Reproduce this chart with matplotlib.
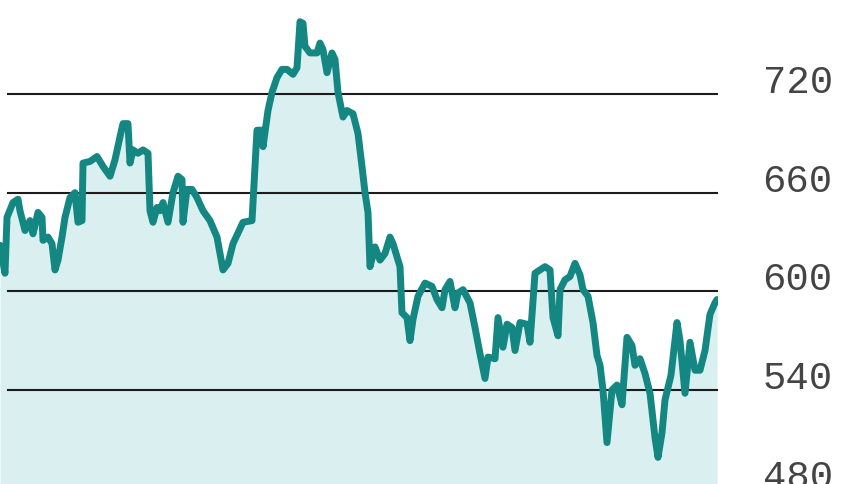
import matplotlib
matplotlib.use("Agg")
import matplotlib.pyplot as plt

# trading-day position and closing level
days = [0, 5, 7, 13, 18, 20, 25, 30, 33, 38, 42, 43, 48, 52, 55, 58, 62, 65, 70, 75,
        78, 82, 83, 90, 97, 103, 110, 115, 120, 123, 128, 130, 133, 138, 143, 148, 150,
        153, 157, 160, 163, 168, 173, 178, 182, 183, 187, 192, 197, 203, 210, 217, 220,
        223, 228, 233, 243, 252, 255, 257, 262, 263, 268, 272, 277, 282, 287, 293, 297,
        300, 303, 305, 310, 317, 320, 323, 327, 332, 335, 338, 343, 347, 353, 358, 362,
        365, 368, 370, 375, 380, 385, 390, 393, 400, 402, 407, 410, 413, 418, 425, 432,
        437, 442, 445, 450, 455, 458, 463, 470, 475, 480, 485, 488, 495, 498, 503, 507,
        512, 515, 520, 527, 530, 535, 540, 545, 550, 553, 558, 560, 565, 570, 575, 580,
        583, 588, 593, 597, 600, 603, 607, 612, 617, 622, 627, 632, 635, 640, 645, 650,
        655, 658, 662, 665, 671, 677, 680, 685, 690, 695, 700, 705, 710, 715, 717]
values = [628, 611, 645, 654, 656, 649, 637, 643, 635, 648, 645, 631, 633, 629, 613, 619,
          633, 645, 657, 660, 642, 643, 678, 679, 682, 676, 670, 680, 694, 702, 702, 678,
          686, 684, 686, 684, 649, 642, 651, 649, 654, 642, 660, 670, 668, 642, 662, 662,
          657, 649, 643, 633, 623, 613, 617, 629, 642, 643, 676, 698, 698, 688, 710, 721,
          730, 735, 735, 732, 736, 764, 763, 749, 745, 745, 751, 747, 733, 745, 741, 721,
          706, 710, 708, 696, 676, 660, 648, 615, 627, 619, 623, 633, 629, 615, 587, 584,
          570, 583, 597, 605, 603, 595, 590, 601, 606, 590, 599, 601, 593, 578, 562, 547,
          560, 559, 584, 566, 580, 578, 564, 581, 580, 569, 611, 613, 615, 613, 584, 573,
          601, 607, 609, 617, 610, 601, 597, 581, 561, 555, 540, 508, 540, 543, 531, 572,
          567, 555, 559, 550, 538, 511, 499, 514, 534, 549, 581, 570, 538, 569, 552, 552,
          564, 586, 593, 595]

grid_levels = [540, 600, 660, 720]
tick_labels = [480, 540, 600, 660, 720]

LINE = "#148782"
FILL = "#d9eff0"

fig = plt.figure(figsize=(8.6, 4.84), dpi=100)
ax = fig.add_axes([0, 0, 718 / 860, 1])
ax.set_xlim(0, 718)
ax.set_ylim(482.8, 777.2)
ax.axis("off")

ax.fill_between(days, values, 482.8, color=FILL, linewidth=0, zorder=1)
for lvl in grid_levels:
    ax.axhline(lvl, xmin=8 / 718, xmax=1, color="#1c1c1c", linewidth=1.5, zorder=2)
ax.plot(days, values, color=LINE, linewidth=5.0, solid_joinstyle="round",
        solid_capstyle="round", zorder=3)

# right-hand scale labels sit just above their gridlines
for lvl in tick_labels:
    ax.text(1.062, lvl + 0.6, str(lvl), transform=ax.get_yaxis_transform(),
            ha="left", va="baseline", fontsize=28, family="Liberation Mono",
            color="#444444", clip_on=False)

fig.savefig("out.png", dpi=100)
